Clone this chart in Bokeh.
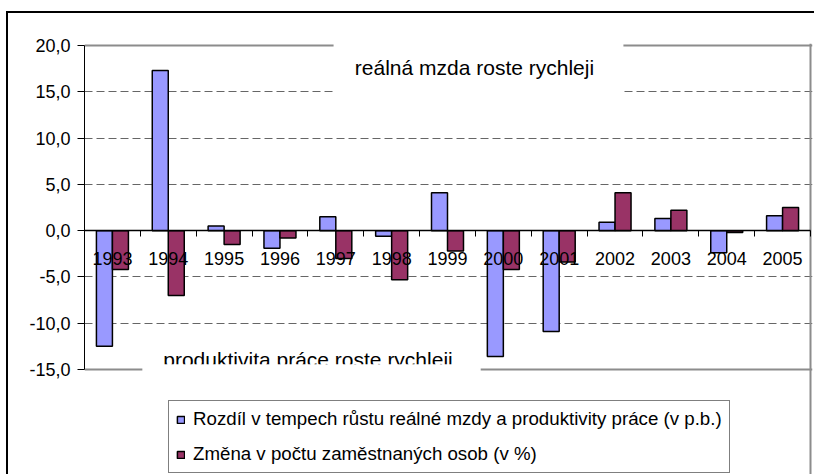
from bokeh.plotting import figure
from bokeh.models import (Range1d, FixedTicker, LinearAxis, ColumnDataSource, Legend,
                          LegendItem, BoxAnnotation, Label, Grid)
from bokeh.transform import dodge
from bokeh.embed import file_html
from bokeh.resources import INLINE

years = ["1993", "1994", "1995", "1996", "1997", "1998", "1999",
         "2000", "2001", "2002", "2003", "2004", "2005"]
wage_gap = [-12.5, 17.3, 0.5, -1.9, 1.5, -0.6, 4.1, -13.6, -10.9, 0.9, 1.3, -2.4, 1.6]
employment = [-4.2, -7.0, -1.5, -0.8, -3.0, -5.3, -2.2, -4.2, -3.4, 4.1, 2.2, -0.2, 2.5]
y_ticks = [-15, -10, -5, 0, 5, 10, 15, 20]
y_tick_labels = ["-15,0", "-10,0", "-5,0", "0,0", "5,0", "10,0", "15,0", "20,0"]
series_names = ["Rozdíl v tempech růstu reálné mzdy a produktivity práce (v p.b.)",
                "Změna v počtu zaměstnaných osob (v %)"]
annotations = ["reálná mzda roste rychleji", "produktivita práce roste rychleji"]

FONT = "Liberation Sans"
idx = list(range(len(years)))
src = ColumnDataSource(dict(idx=idx, year=years, gap=wage_gap, emp=employment))

# The frame spans down to the canvas bottom so that the legend (inside it) is not clipped;
# the value axis itself is bounded to y_ticks[0]..y_ticks[-1]. A little extra room is kept
# at the top and right so the plot-area edge lines are not clipped.
FRAME_TOP = 43
axis_px_h = 369 - 45
ppu_y = axis_px_h / (y_ticks[-1] - y_ticks[0])
y_hi = y_ticks[-1] + 2 / ppu_y
y_lo = y_hi - (474 - FRAME_TOP) / ppu_y
cat_px = 726 / len(years)
x_hi = len(years) - 0.5 + 2 / cat_px

p = figure(width=814, height=474, output_backend="svg", toolbar_location=None,
           x_range=Range1d(-0.5, x_hi),
           y_range=Range1d(y_lo, y_hi),
           x_axis_type=None,
           min_border_left=84, min_border_right=2, min_border_top=FRAME_TOP,
           min_border_bottom=0)
p.border_fill_color = None
p.background_fill_color = "white"
p.outline_line_color = None
p.styles = {"background": "linear-gradient(#000, #000) 6px 11px / 2px 100% no-repeat, "
                          "linear-gradient(#000, #000) 6px 11px / 100% 2px no-repeat"}

# grid
p.xgrid.visible = False
p.ygrid.ticker = FixedTicker(ticks=[t for t in y_ticks if t not in (0, y_ticks[0], y_ticks[-1])])
p.ygrid.grid_line_color = "#666666"
p.ygrid.grid_line_dash = "8 4"
p.ygrid.grid_line_width = 1
p.ygrid.bounds = (-0.5, len(years) - 0.5)

# plot-area edges (gray)
for loc in (y_ticks[0], y_ticks[-1]):
    p.add_layout(Grid(dimension=1, ticker=FixedTicker(ticks=[loc]),
                      bounds=(-0.5, len(years) - 0.5), grid_line_color="#8c8c8c",
                      grid_line_width=2))
p.add_layout(Grid(dimension=0, ticker=FixedTicker(ticks=[len(years) - 0.5]),
                  bounds=(y_ticks[0], y_ticks[-1]), grid_line_color="#8c8c8c",
                  grid_line_width=2))

# y axis
ya = p.yaxis[0]
ya.ticker = FixedTicker(ticks=y_ticks)
ya.bounds = (y_ticks[0], y_ticks[-1])
ya.major_label_overrides = {t: l for t, l in zip(y_ticks, y_tick_labels)}
ya.axis_line_color = "black"
ya.axis_line_width = 1
ya.major_tick_line_color = "black"
ya.major_tick_out = 7
ya.major_tick_in = 0
ya.minor_tick_line_color = None
ya.major_label_standoff = 7
ya.major_label_text_font = FONT
ya.major_label_text_font_size = "18px"
ya.major_label_text_color = "black"

# bars
bw = 0.2865
r1 = p.vbar(x=dodge("idx", -bw / 2, range=p.x_range), top="gap", bottom=0, width=bw,
            source=src, fill_color="#9999FF", line_color="black", line_width=1.5)
r2 = p.vbar(x=dodge("idx", bw / 2, range=p.x_range), top="emp", bottom=0, width=bw,
            source=src, fill_color="#993366", line_color="black", line_width=1.5)

# x axis at zero: ticks between categories
xa_ticks = LinearAxis(ticker=FixedTicker(ticks=[i - 0.5 for i in idx] + [len(years) - 0.5]),
                      bounds=(-0.5, len(years) - 0.5),
                      fixed_location=0, axis_line_color="black", axis_line_width=1.5,
                      major_tick_line_color="black", major_tick_out=6, major_tick_in=0,
                      minor_tick_line_color=None, major_label_text_color=None,
                      major_label_text_font_size="1px")
p.add_layout(xa_ticks, "below")
# category labels
xa_labels = LinearAxis(ticker=FixedTicker(ticks=idx),
                       major_label_overrides={i: y for i, y in zip(idx, years)},
                       fixed_location=0, axis_line_color=None, major_tick_line_color=None,
                       minor_tick_line_color=None, major_tick_out=0, major_tick_in=0,
                       major_label_standoff=21, major_label_text_font=FONT,
                       major_label_text_font_size="18px", major_label_text_color="black")
p.add_layout(xa_labels, "below")

# annotation boxes and texts
p.add_layout(BoxAnnotation(left=3.96, right=9.15, top=20.3, bottom=14.67,
                           fill_color="white", fill_alpha=1, line_color=None))
p.add_layout(Label(x=6.483, y=17.65, text=annotations[0], text_font=FONT,
                   text_font_size="21px", text_align="center", text_baseline="middle",
                   text_color="black"))
p.add_layout(BoxAnnotation(left=0.54, right=6.59, top=-12.4, bottom=-15.3,
                           fill_color="white", fill_alpha=1, line_color=None))
p.add_layout(Label(x=3.502, y=-13.9, text=annotations[1], text_font=FONT,
                   text_font_size="21px", text_align="center", text_baseline="middle",
                   text_color="black"))
p.add_layout(BoxAnnotation(left=0.54, right=6.59, top=-14.42, bottom=-15.3,
                           fill_color="white", fill_alpha=1, line_color=None))

legend = Legend(items=[LegendItem(label=series_names[0], renderers=[r1]),
                       LegendItem(label=series_names[1], renderers=[r2])],
                location=(84, 1), orientation="vertical",
                border_line_color="black", border_line_width=1,
                label_text_font=FONT, label_text_font_size="18.7px", label_text_color="black",
                glyph_width=9, glyph_height=9, label_standoff=8, padding=7,
                spacing=13, label_height=21, margin=0, background_fill_color="white",
                background_fill_alpha=1)
p.add_layout(legend, "center")

open("out.html", "w").write(file_html(p, INLINE))
